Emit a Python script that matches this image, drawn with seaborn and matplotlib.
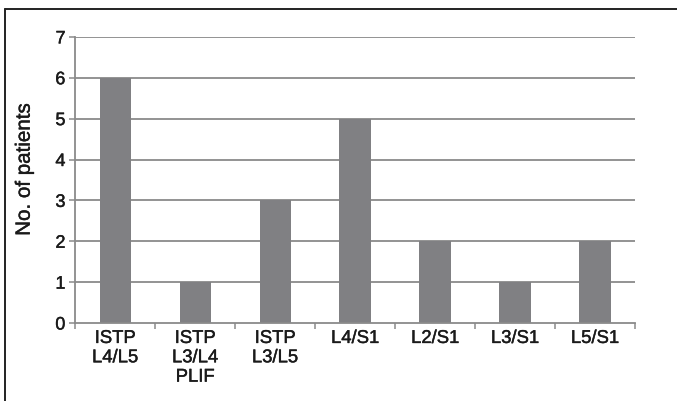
import matplotlib
matplotlib.use("Agg")
import matplotlib.pyplot as plt
import matplotlib.patheffects as pe
import seaborn as sns
import pandas as pd
import numpy as np
from matplotlib.lines import Line2D

categories = ["ISTP\nL4/L5", "ISTP\nL3/L4\nPLIF", "ISTP\nL3/L5", "L4/S1", "L2/S1", "L3/S1", "L5/S1"]
patients = [6, 1, 3, 5, 2, 1, 2]
y_ticks = [0, 1, 2, 3, 4, 5, 6, 7]

sns.set_style("white")
plt.rcParams["font.family"] = ["Liberation Sans", "DejaVu Sans"]

df = pd.DataFrame({"level": categories, "count": patients})

fig = plt.figure(figsize=(6.77, 4.01), dpi=100)
ax = fig.add_axes([0.111, 0.1945, 0.827, 0.7135])

grid_color = "#8a8a8a"
text_color = "#1a1a1a"
heavy = [pe.withStroke(linewidth=0.3, foreground=text_color)]
for t in y_ticks[1:]:
    ax.axhline(t, color=grid_color, lw=1.3, zorder=0)

sns.barplot(data=df, x="level", y="count", color="#808083", width=0.39,
            saturation=1, linewidth=0, ax=ax, zorder=2)

ax.set_ylim(0, 7)
ax.set_xlim(-0.5, len(categories) - 0.5)
ax.set_yticks(y_ticks)
ax.set_yticklabels([str(t) for t in y_ticks], fontsize=13, color=text_color)
ax.set_xticks(range(len(categories)))
ax.set_xticklabels(categories, fontsize=13.3, linespacing=1.18, color=text_color)
ax.set_xticks(np.arange(-0.5, len(categories)), minor=True)
ax.tick_params(axis="x", which="major", length=0, pad=5)
ax.tick_params(axis="x", which="minor", length=4, width=1.1, color=grid_color, direction="out")
ax.tick_params(axis="y", length=4, width=1.1, color=grid_color, direction="out", pad=3)
ax.yaxis.set_ticks_position("left")
ax.xaxis.set_ticks_position("bottom")
for lbl in ax.get_xticklabels() + ax.get_yticklabels():
    lbl.set_path_effects(heavy)

ax.set_xlabel("")
ax.set_ylabel("No. of patients", fontsize=14.8, color=text_color, ha="center", va="center")
ax.yaxis.set_label_coords(-0.091, 0.535)
ax.yaxis.label.set_path_effects(heavy)

for side in ["top", "right"]:
    ax.spines[side].set_visible(False)
for side in ["left", "bottom"]:
    ax.spines[side].set_color(grid_color)
    ax.spines[side].set_linewidth(1.3)

# outer frame: left and top edges
fig.add_artist(Line2D([4.5 / 677, 4.5 / 677], [0, 1 - 8.5 / 401], transform=fig.transFigure,
                      color="#222222", lw=1.4))
fig.add_artist(Line2D([4.5 / 677, 1], [1 - 8.5 / 401, 1 - 8.5 / 401], transform=fig.transFigure,
                      color="#222222", lw=1.4))

fig.savefig("out.png", dpi=100)
